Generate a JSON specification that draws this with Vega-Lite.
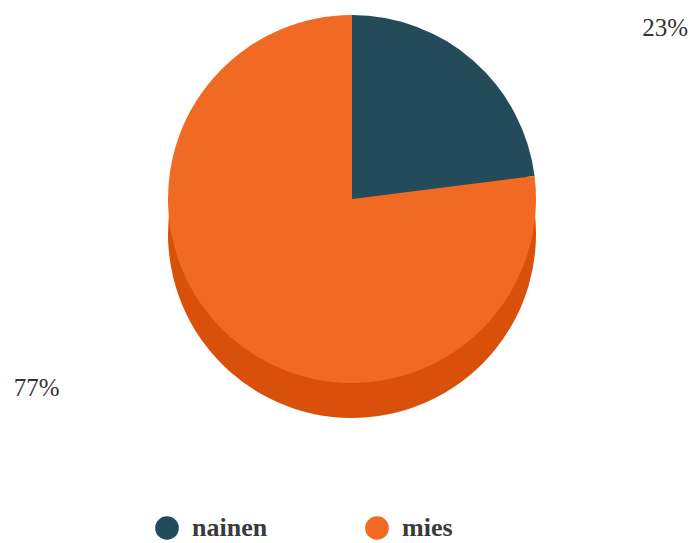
{
  "$schema": "https://vega.github.io/schema/vega-lite/v6.json",
  "width": 684,
  "height": 398,
  "autosize": "none",
  "padding": {"left": 10, "right": 0, "top": 0, "bottom": 145},
  "background": "white",
  "config": {"view": {"stroke": null}},
  "data": {"values": [
    {"sukupuoli": "nainen", "share": 0.23},
    {"sukupuoli": "mies", "share": 0.77}
  ]},
  "encoding": {
    "theta": {"field": "share", "type": "quantitative", "stack": true},
    "order": {"field": "share", "type": "quantitative", "sort": "ascending"}
  },
  "layer": [
    {
      "mark": {"type": "arc", "outerRadius": 184, "yOffset": 35},
      "encoding": {
        "color": {"condition": {"test": "datum.sukupuoli === 'nainen'", "value": "#173945"}, "value": "#d9500b"}
      }
    },
    {
      "mark": {"type": "arc", "outerRadius": 184},
      "encoding": {
        "color": {
          "field": "sukupuoli", "type": "nominal",
          "scale": {"domain": ["nainen", "mies"], "range": ["#234b5a", "#f06a23"]},
          "legend": {
            "title": null, "orient": "none", "direction": "horizontal", "columns": 2,
            "legendX": 144, "legendY": 515,
            "symbolType": "circle", "symbolSize": 560, "symbolStrokeWidth": 0,
            "labelFont": "Times New Roman, Liberation Serif, DejaVu Serif, serif", "labelFontSize": 26, "labelFontWeight": "bold",
            "labelColor": "#3a3a3a", "labelOffset": 12, "labelLimit": 300, "columnPadding": 96, "padding": 0
          }
        }
      }
    },
    {
      "mark": {"type": "text", "radius": 200, "dx": 181, "dy": -21, "align": "center", "baseline": "middle",
               "font": "Times New Roman, Liberation Serif, DejaVu Serif, serif", "fontSize": 25, "color": "#333333"},
      "encoding": {
        "text": {"condition": {"test": "datum.sukupuoli === 'nainen'", "field": "share", "type": "quantitative", "format": ".0%"}, "value": ""}
      }
    },
    {
      "mark": {"type": "text", "radius": 200, "dx": -183, "dy": 39, "align": "center", "baseline": "middle",
               "font": "Times New Roman, Liberation Serif, DejaVu Serif, serif", "fontSize": 25, "color": "#333333"},
      "encoding": {
        "text": {"condition": {"test": "datum.sukupuoli === 'mies'", "field": "share", "type": "quantitative", "format": ".0%"}, "value": ""}
      }
    }
  ]
}
